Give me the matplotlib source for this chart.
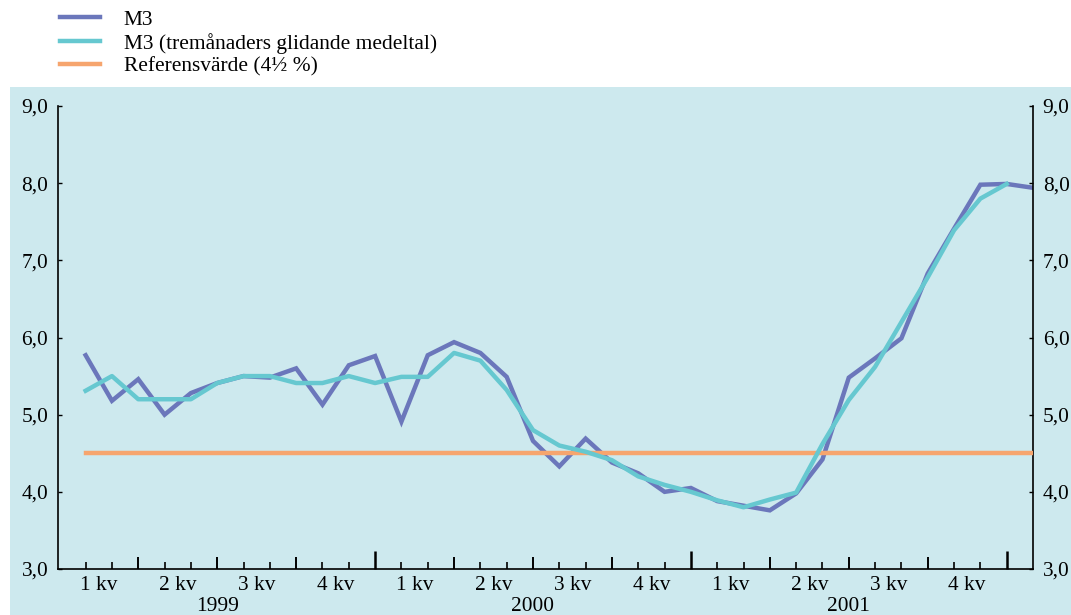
import numpy as np
import matplotlib
matplotlib.use("Agg")
import matplotlib.pyplot as plt
import matplotlib.transforms as mtransforms

plt.rcParams['font.family'] = ['Liberation Serif', 'DejaVu Serif']
plt.rcParams['font.size'] = 15.4

# --- data (monthly, Jan 1999 .. Jan 2002) ---
m3 = [5.77, 5.18, 5.46, 5.00, 5.28, 5.41, 5.50, 5.48, 5.60, 5.13, 5.64, 5.76,
      4.91, 5.77, 5.94, 5.80, 5.49, 4.66, 4.33, 4.69, 4.38, 4.24, 4.00, 4.05,
      3.88, 3.82, 3.76, 3.98, 4.42, 5.48, 5.73, 5.99, 6.83, 7.41, 7.98, 7.99,
      7.94]
m3_avg = [5.31, 5.50, 5.20, 5.20, 5.20, 5.41, 5.50, 5.50, 5.41, 5.41, 5.50, 5.41,
          5.49, 5.49, 5.80, 5.70, 5.32, 4.80, 4.60, 4.52, 4.41, 4.20, 4.09, 4.00,
          3.89, 3.80, 3.90, 3.99, 4.62, 5.19, 5.62, 6.20, 6.78, 7.39, 7.80, 7.99]
ref_value = 4.5
years = ['1999', '2000', '2001']
quarters = ['1 kv', '2 kv', '3 kv', '4 kv']
y_ticks = [3.0, 4.0, 5.0, 6.0, 7.0, 8.0, 9.0]

labels = ['M3', 'M3 (tremånaders glidande medeltal)', 'Referensvärde (4½ %)']
c_m3 = '#6b77bb'
c_avg = '#66c8d0'
c_ref = '#f6a56e'
bg = '#cde9ee'

fig = plt.figure(figsize=(10.71, 6.15), dpi=100)
fig.patch.set_facecolor('white')
# light blue panel behind the plot
panel = plt.Rectangle((10/1071, 0), 1 - 10/1071, (615-87)/615,
                      transform=fig.transFigure, facecolor=bg,
                      edgecolor='none', zorder=-1)
fig.patches.append(panel)

ax = fig.add_axes([58/1071, (615-569)/615, (1033-58)/1071, (569-106)/615])
ax.set_facecolor('none')

x_m3 = np.arange(len(m3))
x_avg = np.arange(len(m3_avg))
l1, = ax.plot(x_m3, m3, color=c_m3, lw=3.2, zorder=2, solid_joinstyle='miter')
l3, = ax.plot([x_m3[0], x_m3[-1]], [ref_value, ref_value], color=c_ref, lw=3.2, zorder=3)
l2, = ax.plot(x_avg, m3_avg, color=c_avg, lw=3.2, zorder=4)

ax.set_xlim(-1.05, len(m3) - 1)
ax.set_ylim(3, 9)

ax.spines['top'].set_visible(False)
for s in ['left', 'right', 'bottom']:
    ax.spines[s].set_linewidth(1.2)

# y axis both sides
ax.set_yticks(y_ticks)
ax.set_yticklabels([f'{v:.1f}'.replace('.', ',') for v in y_ticks])
ax.tick_params(axis='y', which='both', direction='in', length=3, width=1,
               left=True, right=True, labelleft=True, labelright=True, pad=7)

# x axis: month ticks, longer at quarter ends, longest at year ends
n_months = 12 * len(years)
ax.set_xticks(np.arange(n_months))
ax.set_xticklabels([])
ax.tick_params(axis='x', direction='in', width=1.2, pad=2)
for i, t in enumerate(ax.xaxis.get_major_ticks()):
    if i % 12 == 11:
        t.tick1line.set_markersize(13)
        t.tick1line.set_markeredgewidth(1.8)
    elif i % 3 == 2:
        t.tick1line.set_markersize(9)
        t.tick1line.set_markeredgewidth(1.4)
    else:
        t.tick1line.set_markersize(5)

trans = mtransforms.blended_transform_factory(ax.transData, ax.transAxes)
for yi, yr in enumerate(years):
    for qi, q in enumerate(quarters):
        xc = yi * 12 + qi * 3 + 0.5
        ax.text(xc, -7/463, q, transform=trans, ha='center', va='top')
    ax.text(yi * 12 + 5, -28/463, yr, transform=trans, ha='center', va='top')

fig.legend([l1, l2, l3], labels, loc='upper left', bbox_to_anchor=(50/1071, 1.0),
           frameon=False, handlelength=1.9, handletextpad=1.1,
           labelspacing=0.15, borderaxespad=0.3, borderpad=0.15)

fig.savefig('out.png', dpi=100)
